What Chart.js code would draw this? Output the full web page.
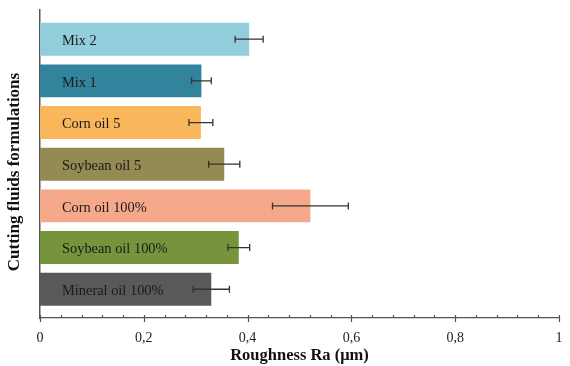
<!DOCTYPE html>
<html>
<head>
<meta charset="utf-8">
<script src="https://cdn.jsdelivr.net/npm/chart.js@4/dist/chart.umd.min.js"></script>
<style>
  body { margin: 0; background: #fff; }
  #wrap { width: 570px; height: 366px; }
</style>
</head>
<body>
<div id="wrap"><canvas id="raChart"></canvas></div>
<script>
const categories = ["Mix 2", "Mix 1", "Corn oil 5", "Soybean oil 5", "Corn oil 100%", "Soybean oil 100%", "Mineral oil 100%"];
const roughness = [0.403, 0.311, 0.310, 0.355, 0.521, 0.383, 0.330];
const errors = [0.027, 0.019, 0.023, 0.030, 0.073, 0.021, 0.035];
const barColors = ["#92cddc", "#31849b", "#f9b65b", "#948a54", "#f5a88a", "#77933c", "#595959"];
const xTicks = [0, 0.2, 0.4, 0.6, 0.8, 1];
const yTitle = "Cutting fluids formulations";

const serif = "'Liberation Serif', 'Times New Roman', serif";

// labels written inside each bar + error bars
const barExtras = {
  id: "barExtras",
  afterDatasetsDraw(chart) {
    const ctx = chart.ctx;
    const x = chart.scales.x;
    const y = chart.scales.y;
    ctx.save();
    roughness.forEach((v, i) => {
      const py = y.getPixelForValue(i);
      ctx.fillStyle = "#1a1a1a";
      ctx.font = "14.4px " + serif;
      ctx.textBaseline = "middle";
      ctx.textAlign = "left";
      ctx.fillText(categories[i], 62, py + 2);

      const lo = x.getPixelForValue(v - errors[i]);
      const hi = x.getPixelForValue(v + errors[i]);
      ctx.strokeStyle = "#333";
      ctx.lineWidth = 1.3;
      ctx.beginPath();
      ctx.moveTo(lo, py); ctx.lineTo(hi, py);
      ctx.moveTo(lo, py - 3.5); ctx.lineTo(lo, py + 3.5);
      ctx.moveTo(hi, py - 3.5); ctx.lineTo(hi, py + 3.5);
      ctx.stroke();
    });

    // y axis title, a bit below the middle of the axis like the original
    ctx.translate(15, 172);
    ctx.rotate(-Math.PI / 2);
    ctx.fillStyle = "#111";
    ctx.font = "bold 17px " + serif;
    ctx.textAlign = "center";
    ctx.textBaseline = "middle";
    ctx.fillText(yTitle, 0, 0);
    ctx.restore();
  }
};

// tick marks on the x axis: minor ones up, major ones across
const axisTicks = {
  id: "axisTicks",
  afterDraw(chart) {
    const ctx = chart.ctx;
    const x = chart.scales.x;
    const base = chart.chartArea.bottom;
    ctx.save();
    ctx.strokeStyle = "#555";
    ctx.lineWidth = 1.2;
    ctx.beginPath();
    for (let i = 0; i <= 25; i++) {
      const px = Math.round(x.getPixelForValue(i * 0.04)) + 0.5;
      if (i % 5 === 0) {
        ctx.moveTo(px, base - 3);
        ctx.lineTo(px, base + 4);
      } else {
        ctx.moveTo(px, base - 3);
        ctx.lineTo(px, base);
      }
    }
    ctx.stroke();
    ctx.restore();
  }
};

new Chart(document.getElementById("raChart"), {
  type: "bar",
  data: {
    datasets: [{
      data: roughness.map((v, i) => ({ x: v, y: i })),
      backgroundColor: barColors,
      borderWidth: 0,
      barPercentage: 0.79,
      categoryPercentage: 1
    }]
  },
  options: {
    indexAxis: "y",
    responsive: true,
    maintainAspectRatio: false,
    animation: false,
    layout: { padding: { top: 10, right: 11, left: 0, bottom: 0 } },
    plugins: {
      legend: { display: false },
      tooltip: { enabled: false }
    },
    scales: {
      x: {
        type: "linear",
        min: 0,
        max: 1,
        afterBuildTicks: (scale) => { scale.ticks = xTicks.map(v => ({ value: v })); },
        grid: { display: false },
        border: { display: true, color: "#555", width: 1.2 },
        ticks: {
          padding: 4,
          color: "#222",
          font: { family: serif, size: 14 },
          callback: (v) => String(Math.round(v * 10) / 10).replace(".", ",")
        },
        title: {
          display: true,
          text: "Roughness Ra (μm)",
          color: "#111",
          font: { family: serif, size: 16.5, weight: "bold" },
          padding: { top: -2, bottom: 0 }
        },
        afterFit: (scale) => { scale.height = 48; }
      },
      y: {
        type: "linear",
        reverse: true,
        offset: false,
        min: -0.70,
        max: 6.69,
        afterBuildTicks: (scale) => { scale.ticks = categories.map((c, i) => ({ value: i })); },
        grid: { display: false },
        border: { display: true, color: "#555", width: 1.5 },
        ticks: { display: false },
        afterFit: (scale) => { scale.width = 40; }
      }
    }
  },
  plugins: [barExtras, axisTicks]
});
</script>
</body>
</html>
